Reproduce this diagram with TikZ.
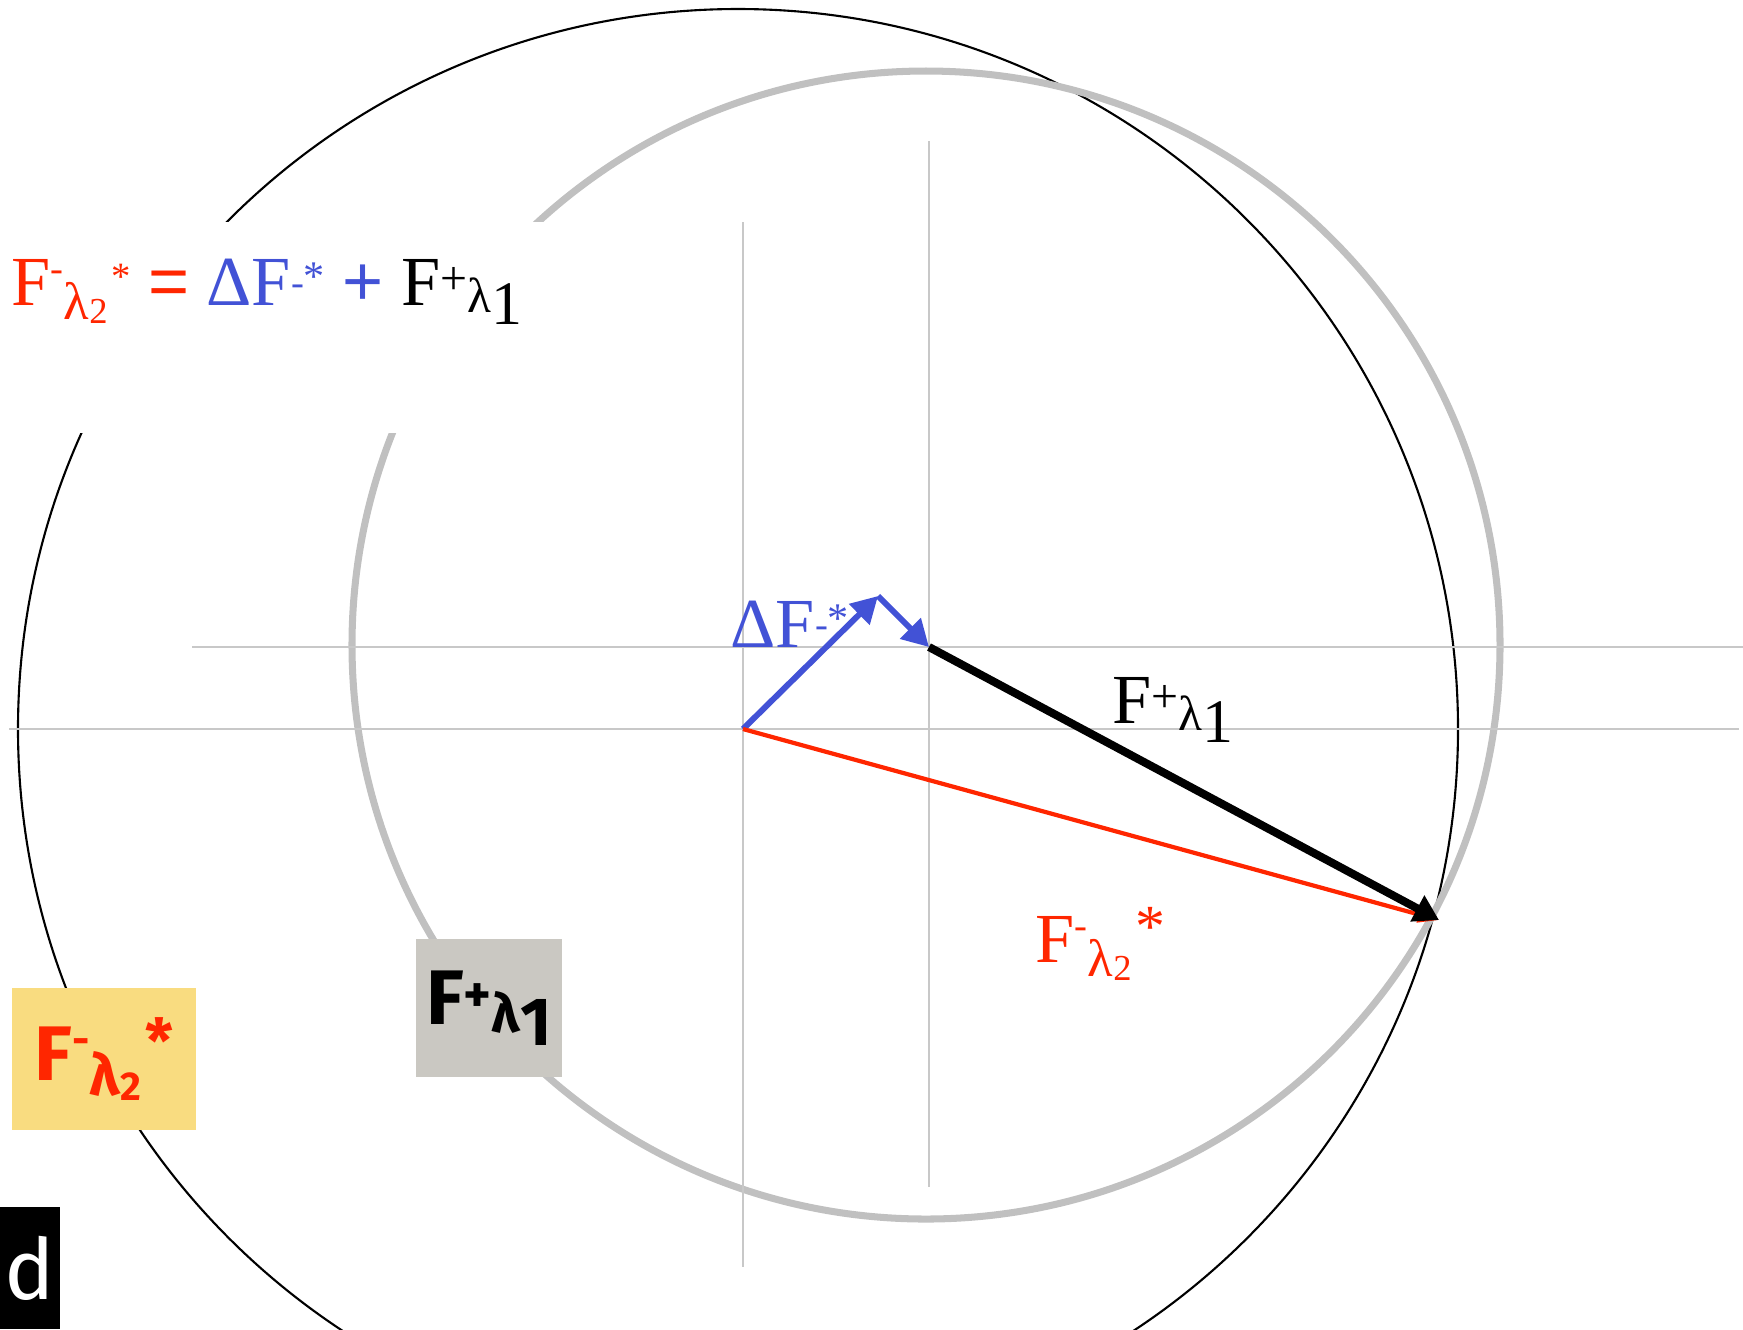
\documentclass[tikz,border=0pt]{standalone}
\usepackage{fontspec}
\usepackage{graphicx}
\setmainfont{Liberation Serif}
\newfontfamily\labelfont{Fira Sans}
\newfontfamily\opfont{Liberation Sans}
\usetikzlibrary{arrows.meta,positioning}

\definecolor{vecred}{RGB}{255,38,0}
\definecolor{vecblue}{RGB}{66,82,214}
\definecolor{circgray}{RGB}{192,192,192}
\definecolor{axisgray}{RGB}{200,200,200}
\definecolor{boxyellow}{RGB}{249,220,128}
\definecolor{boxgray}{RGB}{202,200,194}

% raised / lowered pieces of the vector names
\newcommand{\shift}[3]{\raisebox{#1}{\scalebox{#2}{#3}}}
% vector names as they are typed in the figure (optional arg: size of the star)
\newcommand{\Fm}[1][0.55]{F\shift{0.34em}{0.55}{-}\shift{-0.2em}{0.75}{λ}%
  \shift{-0.26em}{0.52}{2}\kern0.05em\shift{0.22em}{#1}{*}}
\newcommand{\Fp}{F\shift{0.15em}{0.68}{+}\shift{-0.11em}{0.7}{λ}\shift{-0.28em}{0.88}{1}}
\newcommand{\dFm}{ΔF\shift{0.13em}{0.55}{-}\shift{0.2em}{0.6}{*}}

\begin{document}
\begin{tikzpicture}[x=0.01cm, y=-0.01cm, >=Stealth,
    every node/.style={font=\fontsize{20}{24}\selectfont, inner sep=0pt},
    axis/.style={axisgray, line width=0.5pt},
    tagbox/.style={font=\labelfont\bfseries\fontsize{22}{26}\selectfont}]
  \useasboundingbox (0,0) rectangle (1743,1329);
  \clip (0,0) rectangle (1743,1329);

  % ---- Points of the construction ----
  \coordinate (O) at (743,729);   % origin of both sums
  \coordinate (A) at (878,596);   % kink of Delta F
  \coordinate (C) at (929,647);   % end of Delta F
  \coordinate (T) at (1439,920);  % common tip

  % ---- Circles ----
  \draw[black, line width=0.6pt] (738,729) circle[radius=720];
  \draw[circgray, line width=2pt] (926,645) circle[radius=574];

  % ---- Axes through O and C ----
  \draw[axis] (9,729) -- (1739,729);
  \draw[axis] (743,222) -- (743,1267);
  \draw[axis] (192,647) -- (1743,647);
  \draw[axis] (929,141) -- (929,1187);

  % white patch behind the equation
  \fill[white] (0,222) rectangle (545,433);

  % ---- Vectors ----
  \draw[vecblue, line width=1.7pt, -{Triangle[length=7.5pt,width=8pt]}] (O) -- (A);
  \draw[vecblue, line width=1.7pt, -{Triangle[length=7.5pt,width=8pt]}] (A) -- (C);
  \draw[vecred, line width=1.2pt, -{Triangle[length=6pt,width=4.5pt]}] (O) -- (T);
  \draw[black, line width=2.3pt, -{Triangle[length=7pt,width=8pt]}] (C) -- (T);

  % ---- Labels ----
  \node[anchor=base west] (eq) at (11,305)
    {\textcolor{vecred}{\Fm\ {\opfont =}} \textcolor{vecblue}{\dFm\ {\opfont +}} \Fp};
  \node[vecblue, anchor=base west] (lblDF) at (730,647) {\dFm};
  \node[anchor=base west] (lblFp) at (1112,723) {\Fp};
  \node[vecred, anchor=base west] (lblFm) at (1035,962) {\Fm[0.85]};

  % ---- Boxed tags ----
  \node[tagbox, fill=boxyellow, text=vecred, minimum width=1.83cm, minimum height=1.42cm]
    (boxFm) at (104,1059) {\Fm[0.8]};
  \node[tagbox, fill=boxgray, minimum width=1.46cm, minimum height=1.37cm]
    (boxFp) at (489,1008) {\Fp};
  \node[tagbox, fill=black, text=white, font=\labelfont\fontsize{24}{28}\selectfont,
    minimum width=0.6cm, minimum height=1.22cm] (tagd) at (30,1268) {d};
\end{tikzpicture}
\end{document}
